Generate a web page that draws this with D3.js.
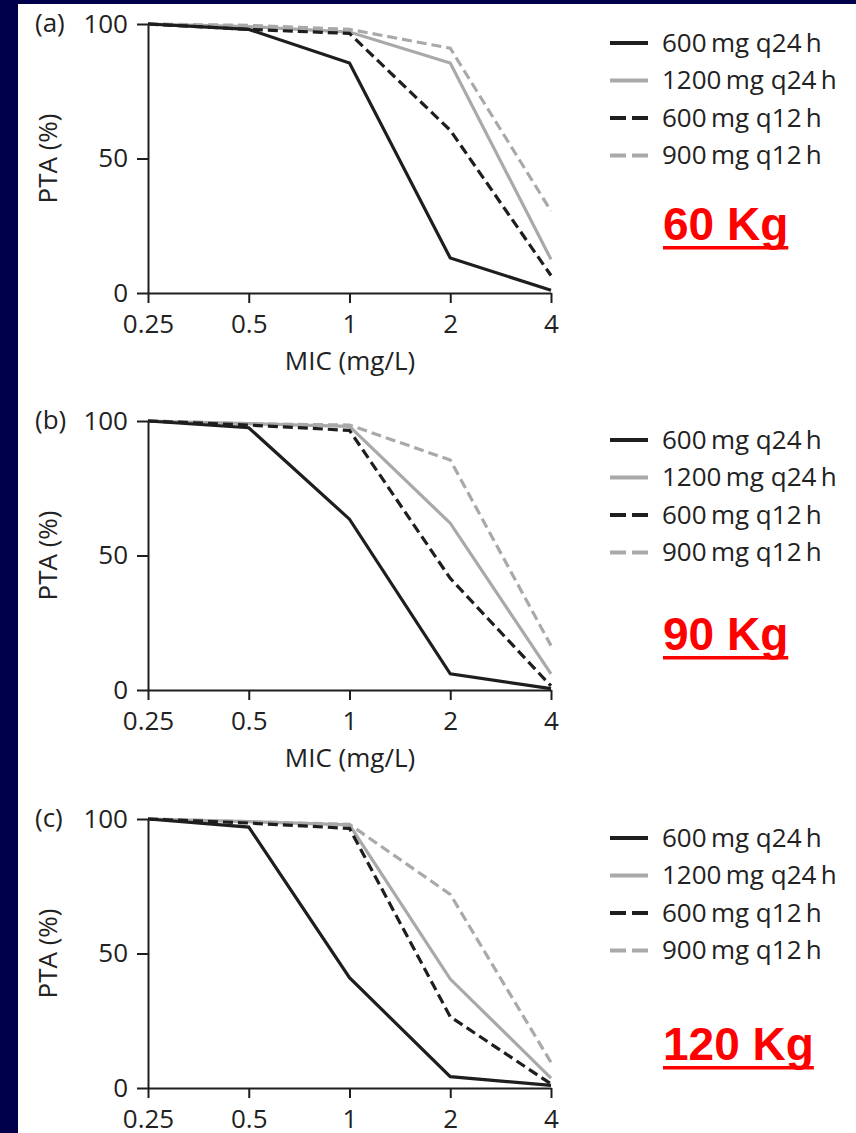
<!DOCTYPE html>
<html>
<head>
<meta charset="utf-8">
<script src="https://cdn.jsdelivr.net/npm/d3@7"></script>
<style>
  body { margin: 0; background: #00004a; }
  svg { display: block; }
</style>
</head>
<body>
<svg width="856" height="1133"></svg>
<script>
// MIC values (x) and the four regimens
var mics = [0.25, 0.5, 1, 2, 4];
var regimens = ["600\u2009mg q24\u2009h", "1200\u2009mg q24\u2009h", "600\u2009mg q12\u2009h", "900\u2009mg q12\u2009h"];
var panelLetters = ["(a)", "(b)", "(c)"];
var weights = ["60 Kg", "90 Kg", "120 Kg"];
var yTicks = [0, 50, 100];

// PTA (%) per regimen, panel a (60 kg)
var pta60_600q24  = [100, 98, 85.5, 13, 1];
var pta60_1200q24 = [100, 99, 97, 85.5, 12.5];
var pta60_600q12  = [100, 98, 96.5, 60.5, 6.5];
var pta60_900q12  = [100, 99.5, 98, 91, 30.5];
// panel b (90 kg)
var pta90_600q24  = [100, 97.5, 63.5, 6, 0.5];
var pta90_1200q24 = [100, 99, 98, 62, 6];
var pta90_600q12  = [100, 98.5, 96.5, 41.5, 1.5];
var pta90_900q12  = [100, 99, 98.5, 85.5, 16.5];
// panel c (120 kg)
var pta120_600q24  = [100, 97, 41, 4.2, 1];
var pta120_1200q24 = [100, 99, 97.8, 40.5, 3.7];
var pta120_600q12  = [100, 98.5, 96.5, 26.5, 1.5];
var pta120_900q12  = [100, 99, 98, 72, 9.5];

var panels = [
  [pta60_600q24, pta60_1200q24, pta60_600q12, pta60_900q12],
  [pta90_600q24, pta90_1200q24, pta90_600q12, pta90_900q12],
  [pta120_600q24, pta120_1200q24, pta120_600q12, pta120_900q12]
];

var colors = ["#1e1e1e", "#a9a9a9", "#1e1e1e", "#a9a9a9"];
var dashes = [null, null, "10,5", "10,5"];
var legendDashes = [null, null, "16,6", "16,6"];

function drawPanel(svg, p, panelTop, kgBase)
{
  var h = 269;
  var font = "'Open Sans', sans-serif";
  var fs = "26px";
  var x = d3.scaleLog().base(2).domain([0.25, 4]).range([148, 551]);
  var y = d3.scaleLinear().domain([0, 100]).range([panelTop + h, panelTop]);
  var g = svg.append("g");

  var yAxis = g.append("g")
    .attr("transform", "translate(148,0)")
    .call(d3.axisLeft(y).tickValues(yTicks).tickSize(11).tickSizeOuter(0).tickPadding(9));
  var xAxis = g.append("g")
    .attr("transform", "translate(0," + (panelTop + h) + ")")
    .call(d3.axisBottom(x).tickValues(mics).tickSize(10).tickSizeOuter(0).tickPadding(12)
      .tickFormat(d => d + ""));
  [yAxis, xAxis].forEach(function(a) {
    a.select(".domain").attr("stroke", "#1e1e1e").attr("stroke-width", 2);
    a.selectAll(".tick line").attr("stroke", "#1e1e1e").attr("stroke-width", 2);
    a.selectAll(".tick text").attr("fill", "#222").style("font-family", font).style("font-size", fs);
  });

  g.append("text")
    .attr("x", 35).attr("y", panelTop).attr("dy", "0.32em")
    .style("font-family", font).style("font-size", fs).attr("fill", "#222")
    .text(panelLetters[p]);

  g.append("text")
    .attr("transform", "translate(57," + (panelTop + h / 2) + ") rotate(-90)")
    .attr("text-anchor", "middle")
    .style("font-family", font).style("font-size", fs).attr("fill", "#222")
    .text("PTA (%)");

  if (p < 2)
  {
    g.append("text")
      .attr("x", 350).attr("y", panelTop + h + 77)
      .attr("text-anchor", "middle")
      .style("font-family", font).style("font-size", fs).attr("fill", "#222")
      .text("MIC (mg/L)");
  }

  var line = d3.line().x((d, i) => x(mics[i])).y(d => y(d));
  // grey ones first so black sits on top
  [3, 1, 2, 0].forEach(function(s) {
    g.append("path")
      .datum(panels[p][s])
      .attr("d", line)
      .attr("fill", "none")
      .attr("stroke", colors[s])
      .attr("stroke-width", 3.2)
      .attr("stroke-dasharray", dashes[s]);
  });

  // legend
  regimens.forEach(function(r, i) {
    var ly = panelTop + 19 + 37.5 * i;
    g.append("line")
      .attr("x1", 610).attr("x2", 648).attr("y1", ly).attr("y2", ly)
      .attr("stroke", colors[i]).attr("stroke-width", 4)
      .attr("stroke-dasharray", legendDashes[i]);
    g.append("text")
      .attr("x", 662).attr("y", ly).attr("dy", "0.34em")
      .style("font-family", font).style("font-size", fs).attr("fill", "#222")
      .text(r);
  });

  var kg = g.append("text")
    .attr("x", 663).attr("y", kgBase)
    .style("font-family", "'Liberation Sans', Arial, sans-serif")
    .style("font-size", "46px").style("font-weight", "bold")
    .attr("fill", "#ff0000")
    .text(weights[p]);
  var w = kg.node().getComputedTextLength();
  g.append("rect")
    .attr("x", 663).attr("y", kgBase + 6).attr("width", w).attr("height", 3.5)
    .attr("fill", "#ff0000");
}

var svg = d3.select("svg");
svg.append("rect").attr("x", 18).attr("y", 4).attr("width", 838).attr("height", 1129).attr("fill", "#ffffff");

var panelTops = [24, 421, 819];
var kgBaselines = [240, 650, 1060];
for (var p = 0; p < 3; p++) drawPanel(svg, p, panelTops[p], kgBaselines[p]);
</script>
</body>
</html>
